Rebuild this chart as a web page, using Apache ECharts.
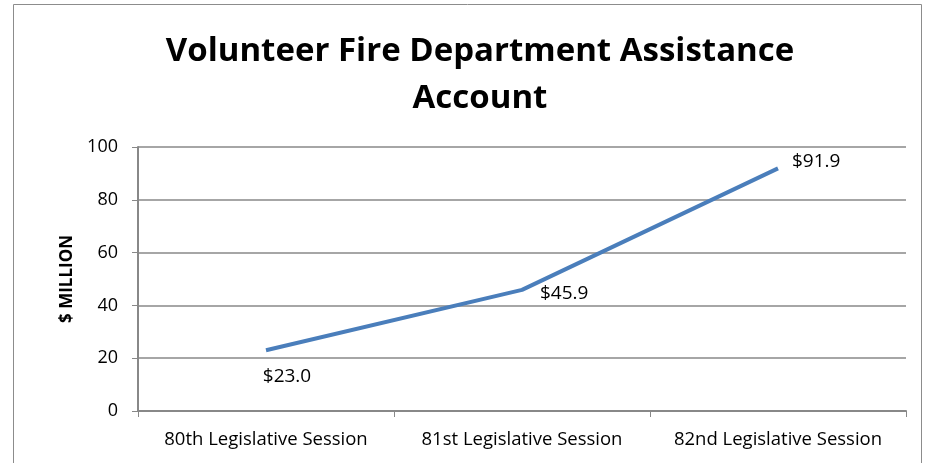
<!DOCTYPE html>
<html>
<head>
<meta charset="utf-8">
<script src="https://cdn.jsdelivr.net/npm/echarts@6/dist/echarts.min.js"></script>
<style>
html,body{margin:0;padding:0;background:#fff;}
#chart{width:933px;height:463px;}
</style>
</head>
<body>
<div id="chart"></div>
<script>
var categories = ['80th Legislative Session', '81st Legislative Session', '82nd Legislative Session'];
var values = [23.0, 45.9, 91.9];
var valueLabels = ['$23.0', '$45.9', '$91.9'];
var yTicks = [0, 20, 40, 60, 80, 100];

var FONT = '"Open Sans", sans-serif';
var chart = echarts.init(document.getElementById('chart'));

var labelPos = [
  {position: 'bottom', offset: [21, 11]},
  {position: 'right', offset: [12, 4]},
  {position: 'right', offset: [8, -7]}
];

chart.setOption({
  animation: false,
  graphic: [{
    type: 'rect',
    shape: {x: 13.5, y: 4.5, width: 908, height: 470},
    style: {fill: 'none', stroke: '#8c8c8c', lineWidth: 1}
  }],
  title: {
    text: 'Volunteer Fire Department Assistance\nAccount',
    left: 475, top: 23, textAlign: 'center',
    textStyle: {fontFamily: FONT, fontWeight: 'bold', fontSize: 33, lineHeight: 47, color: '#000'}
  },
  grid: {left: 138, right: 27, top: 147, bottom: 52},
  xAxis: {
    type: 'category',
    data: categories,
    boundaryGap: true,
    axisLine: {lineStyle: {color: '#888', width: 2}},
    axisTick: {show: true, length: 6, lineStyle: {color: '#888', width: 1}},
    axisLabel: {fontFamily: FONT, fontSize: 18.5, color: '#000', margin: 19, interval: 0}
  },
  yAxis: {
    type: 'value',
    min: 0, max: 100, interval: 20,
    name: '$ MILLION',
    nameLocation: 'middle',
    nameGap: 62,
    nameRotate: 90,
    nameTextStyle: {fontFamily: FONT, fontWeight: 'bold', fontSize: 17, color: '#000'},
    axisLine: {show: true, lineStyle: {color: '#888', width: 2}},
    axisTick: {show: true, length: 6, lineStyle: {color: '#888', width: 1}},
    splitLine: {lineStyle: {color: '#888', width: 1.5}},
    axisLabel: {
      fontFamily: FONT, fontSize: 18, color: '#000', margin: 20,
      formatter: function (v) { return yTicks.indexOf(v) >= 0 ? String(v) : ''; }
    }
  },
  series: [{
    type: 'line',
    data: values.map(function (v, i) {
      return {
        value: v,
        label: {
          show: true,
          position: labelPos[i].position,
          offset: labelPos[i].offset,
          formatter: valueLabels[i],
          fontFamily: FONT, fontSize: 19, color: '#000'
        }
      };
    }),
    symbol: 'circle',
    symbolSize: 2,
    showSymbol: true,
    itemStyle: {color: 'rgba(0,0,0,0)', borderWidth: 0},
    lineStyle: {color: '#4a7ebb', width: 4},
    label: {show: true, color: '#000'}
  }]
});
</script>
</body>
</html>
